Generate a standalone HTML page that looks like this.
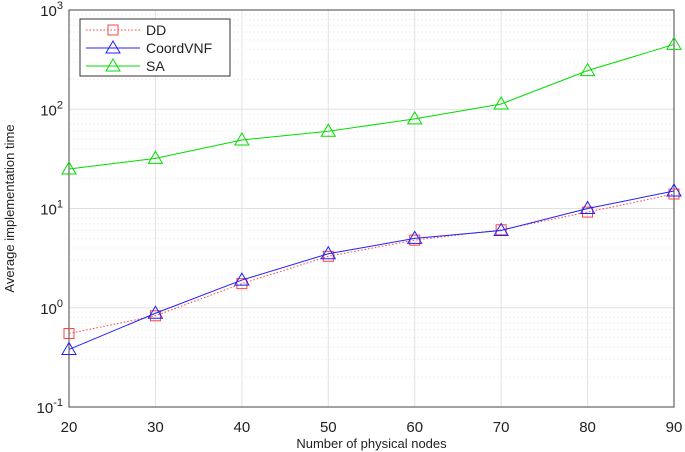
<!DOCTYPE html>
<html><head><meta charset="utf-8"><style>body{margin:0;background:#fff}svg{display:block;font-family:"Liberation Sans",sans-serif}</style></head>
<body>
<svg id="chart" width="685" height="452"></svg>
<script>
const xCats=[20,30,40,50,60,70,80,90];
const ddVals=[0.55,0.83,1.75,3.3,4.8,6.1,9.2,14];
const coordVals=[0.38,0.88,1.9,3.5,5.0,6.0,10,15];
const saVals=[25,32,49,60,80,113,245,450];
const yExps=[-1,0,1,2,3];
const NS="http://www.w3.org/2000/svg";
const svg=document.getElementById('chart');
const L=69,R=674,T=10,B=407;
const xs=v=>L+(v-20)/70*(R-L);
const ys=v=>B-(Math.log10(v)+1)/4*(B-T);
function el(t,a,p){const e=document.createElementNS(NS,t);for(const k in a)e.setAttribute(k,a[k]);(p||svg).appendChild(e);return e;}
const grid=el('g',{});


xCats.forEach(v=>el('line',{x1:xs(v),x2:xs(v),y1:T,y2:B,stroke:'#e3e3e3','stroke-width':1},grid));
for(let e=-1;e<3;e++)for(let m=1;m<10;m++){const y=ys(m*Math.pow(10,e));el('line',{x1:L,x2:R,y1:y,y2:y,stroke:m==1?'#e0e0e0':'#ececec','stroke-width':1,'stroke-dasharray':m==1?'':'1.5 2.5'},grid);}
const box=el('rect',{x:L,y:T,width:R-L,height:B-T,fill:'none',stroke:'#444','stroke-width':1});


xCats.forEach(v=>{const t=el('text',{x:xs(v),y:432,'text-anchor':'middle','font-size':15,fill:'#222'});t.textContent=v;

});
yExps.forEach(e=>{const t=el('text',{x:L-6,y:ys(Math.pow(10,e))+6,'text-anchor':'end','font-size':15,fill:'#222'});t.innerHTML='10<tspan dy="-7" font-size="11">'+e+'</tspan>';

});
const xt=el('text',{x:(L+R)/2,y:448,'text-anchor':'middle','font-size':13,fill:'#222'});xt.textContent='Number of physical nodes';


const yt=el('text',{x:0,y:0,'text-anchor':'middle','font-size':13,fill:'#222',transform:`translate(14,${(T+B)/2}) rotate(-90)`});yt.textContent='Average implementation time';


function tri(x,y,c,g){return el('polygon',{points:`${x},${y-7} ${x-7},${y+5} ${x+7},${y+5}`,fill:'none',stroke:c,'stroke-width':1},g);}
function sq(x,y,c,g){return el('rect',{x:x-5,y:y-5,width:10,height:10,fill:'none',stroke:c,'stroke-width':1},g);}
function series(vals,c,dash,mk,name){const g=el('g',{});


el('polyline',{points:vals.map((v,i)=>xs(xCats[i])+','+ys(v)).join(' '),fill:'none',stroke:c,'stroke-width':1,'stroke-dasharray':dash},g);
vals.forEach((v,i)=>mk(xs(xCats[i]),ys(v),c,g));}
series(saVals,'#00dd00','',tri,'series-sa');
series(ddVals,'#ff4040','1.5 2',sq,'series-dd');
series(coordVals,'#2020ff','',tri,'series-coordvnf');
const lg=el('g',{});


el('rect',{x:80,y:19,width:150,height:57,fill:'#fff',stroke:'#333','stroke-width':1},lg);
[['DD','#ff4040','1.5 2',sq,30],['CoordVNF','#2020ff','',tri,48],['SA','#00dd00','',tri,66]].forEach(([n,c,d,mk,y])=>{
el('line',{x1:86,x2:140,y1:y,y2:y,stroke:c,'stroke-dasharray':d},lg);mk(113,y,c,lg);
const t=el('text',{x:146,y:y+5,'font-size':14,fill:'#222'},lg);t.textContent=n;

});
</script>
</body></html>
